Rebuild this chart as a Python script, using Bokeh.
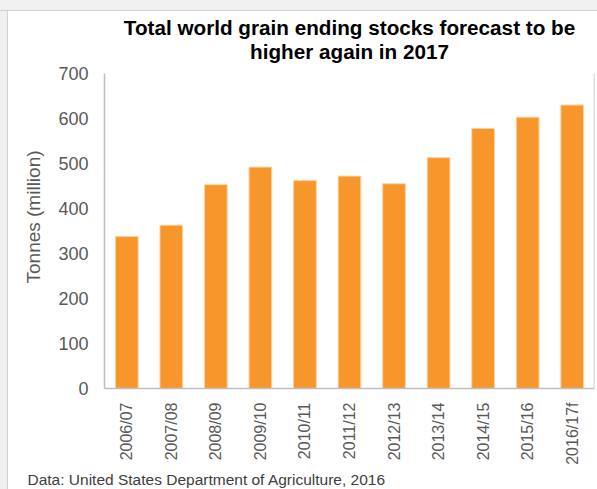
from math import pi
from bokeh.plotting import figure
from bokeh.layouts import column, row
from bokeh.models import (ColumnDataSource, FactorRange, Range1d, FixedTicker,
                          Title, Span, Spacer)
from bokeh.embed import file_html
from bokeh.resources import INLINE

# ---- data ----
seasons = ["2006/07", "2007/08", "2008/09", "2009/10", "2010/11", "2011/12",
           "2012/13", "2013/14", "2014/15", "2015/16", "2016/17f"]
stocks = [338, 363, 453, 492, 462, 472, 455, 513, 578, 603, 630]
y_ticks = [0, 100, 200, 300, 400, 500, 600, 700]

title_line1 = "Total world grain ending stocks forecast to be"
title_line2 = "higher again in 2017"
y_label = "Tonnes (million)"
source_text = "Data: United States Department of Agriculture, 2016"

FONT = "Liberation Sans"
GREY_TXT = "#595959"
AXIS_GREY = "#BFBFBF"
PAGE_GREY = "#f0f0f0"
EDGE_GREY = "#d2d2d2"


def make_title(**kw):
    try:
        return Title(**kw)
    except Exception:
        kw["standoff"] = 0
        return Title(**kw)


src = ColumnDataSource(dict(season=seasons, stocks=stocks))

p = figure(x_range=FactorRange(factors=seasons, range_padding=0),
           y_range=Range1d(0, 700),
           width=589, height=478, title=None,
           output_backend="svg", toolbar_location=None,
           min_border_left=94, min_border_right=3,
           min_border_top=62, min_border_bottom=101,
           background_fill_color="white", border_fill_color="white")

p.vbar(x="season", top="stocks", width=0.51, source=src,
       fill_color="#F7962B", line_color="#FBD3A6", line_width=1)

# two-line centred title (first added = nearest the plot)
title_style = dict(align="center", text_font=FONT, text_font_size="20.7px",
                   text_font_style="bold", text_color="#000000")
p.add_layout(make_title(text=title_line2, standoff=22, **title_style), "above")
p.add_layout(make_title(text=title_line1, standoff=-25, **title_style), "above")

p.outline_line_color = None
p.xgrid.grid_line_color = None
p.ygrid.grid_line_color = None

# y axis
ya = p.yaxis[0]
ya.ticker = FixedTicker(ticks=y_ticks)
ya.axis_line_color = AXIS_GREY
ya.axis_line_width = 1.5
ya.major_tick_line_color = None
ya.minor_tick_line_color = None
ya.major_tick_out = 0
ya.major_tick_in = 0
ya.major_label_standoff = 16
ya.major_label_text_font = FONT
ya.major_label_text_font_size = "18px"
ya.major_label_text_color = GREY_TXT

# x axis
xa = p.xaxis[0]
xa.axis_line_color = AXIS_GREY
xa.axis_line_width = 1.5
xa.major_tick_line_color = None
xa.minor_tick_line_color = None
xa.major_tick_out = 0
xa.major_tick_in = 0
xa.major_label_orientation = pi / 2
xa.major_label_standoff = 14
xa.major_label_text_font = FONT
xa.major_label_text_font_size = "16px"
xa.major_label_text_color = GREY_TXT

# right border line of the plot area
p.add_layout(Span(location=len(seasons), dimension="height",
                  line_color=AXIS_GREY, line_width=1.5))

# y axis title (left panel, shifted upward like the original)
p.add_layout(make_title(text=y_label, align="left", offset=105, standoff=24,
                        text_font=FONT, text_font_size="19px",
                        text_font_style="normal", text_color=GREY_TXT), "left")

# source note (below, starting near the left edge)
p.add_layout(make_title(text=source_text, align="left", offset=-77, standoff=3,
                        text_font=FONT, text_font_size="15.5px",
                        text_font_style="normal", text_color="#404040"), "below")

# grey page surround of the original screenshot
top_bar = Spacer(width=597, height=11, styles={
    "background": f"linear-gradient(to bottom, {PAGE_GREY} 0px, {PAGE_GREY} 10px, {EDGE_GREY} 10px, {EDGE_GREY} 11px)"})
left_bar = Spacer(width=8, height=478, styles={
    "background": f"linear-gradient(to right, {PAGE_GREY} 0px, {PAGE_GREY} 7px, {EDGE_GREY} 7px, {EDGE_GREY} 8px)"})

layout = column(top_bar, row(left_bar, p, spacing=0), spacing=0)

open("out.html", "w").write(file_html(layout, INLINE))
